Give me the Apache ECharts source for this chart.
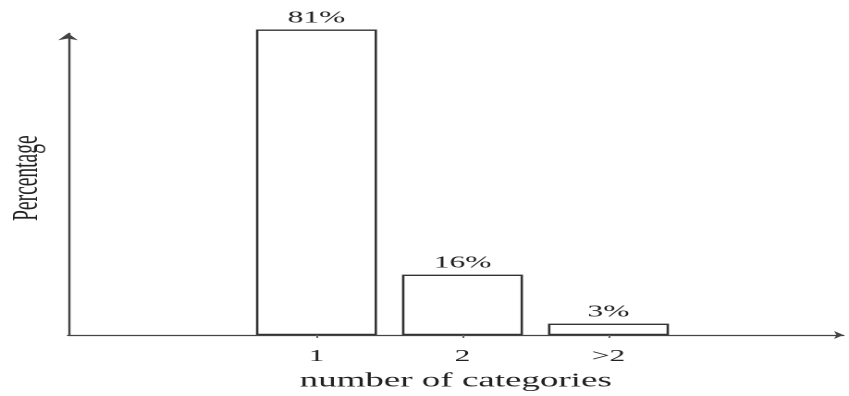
<!DOCTYPE html>
<html><head><meta charset="utf-8">
<script src="https://cdn.jsdelivr.net/npm/echarts@6/dist/echarts.min.js"></script>
<style>
html,body{margin:0;padding:0;background:#fff;overflow:hidden;}
#wrap{width:849px;height:396px;overflow:hidden;position:relative;}
#chart{width:459px;height:396px;transform:scaleX(1.8497);transform-origin:0 0;}
</style></head><body>
<div id="wrap"><div id="chart"></div></div>
<script>
// Data
const categories = ['1', '2', '>2'];
const positions = [1, 2, 3];
const percentages = [81, 16, 3];
const xAxisName = 'number of categories';
const yAxisName = 'Percentage';

const FONT = 'Liberation Serif';
const chart = echarts.init(document.getElementById('chart'), null, {renderer: 'canvas', devicePixelRatio: 2});
const seriesData = positions.map((p, i) => [p, percentages[i]]);

chart.setOption({
  animation: false,
  backgroundColor: '#fff',
  grid: {left: 36.76, right: 3.05, top: 33.3, bottom: 61, containLabel: false, outerBoundsMode: 'none'},
  xAxis: {
    type: 'value',
    min: -0.702,
    max: 4.609,
    splitLine: {show: false},
    axisLine: {show: true, onZero: true, symbol: ['none', 'arrow'], symbolSize: [6, 5],
      lineStyle: {color: '#444', width: 1.2}},
    axisTick: {show: true, customValues: positions, length: 3, inside: false,
      lineStyle: {color: '#666', width: 1}},
    axisLabel: {show: true, customValues: positions, margin: 13,
      formatter: v => categories[positions.indexOf(v)] ?? '',
      fontFamily: FONT, fontSize: 17, color: '#222'},
    name: xAxisName,
    nameLocation: 'middle',
    nameGap: 36,
    nameTextStyle: {fontFamily: FONT, fontSize: 20, color: '#222'}
  },
  yAxis: {
    type: 'value',
    min: 0,
    max: 80,
    splitLine: {show: false},
    axisTick: {show: false},
    axisLabel: {show: false},
    axisLine: {show: true, onZero: false, symbol: ['none', 'arrow'], symbolSize: [8, 7],
      lineStyle: {color: '#444', width: 1.2}},
    name: yAxisName,
    nameLocation: 'middle',
    nameGap: 12,
    nameTextStyle: {fontFamily: FONT, fontSize: 19.5, color: '#222', padding: [0, 0, 0, 12]}
  },
  series: [{
    type: 'bar',
    data: seriesData,
    barWidth: 65.4,
    clip: false,
    itemStyle: {color: '#fff', borderColor: '#333', borderWidth: 1.3},
    label: {show: true, position: 'top', distance: 3,
      formatter: p => p.value[1] + '%',
      fontFamily: FONT, fontSize: 17, color: '#222'}
  }]
});
</script>
</body></html>
